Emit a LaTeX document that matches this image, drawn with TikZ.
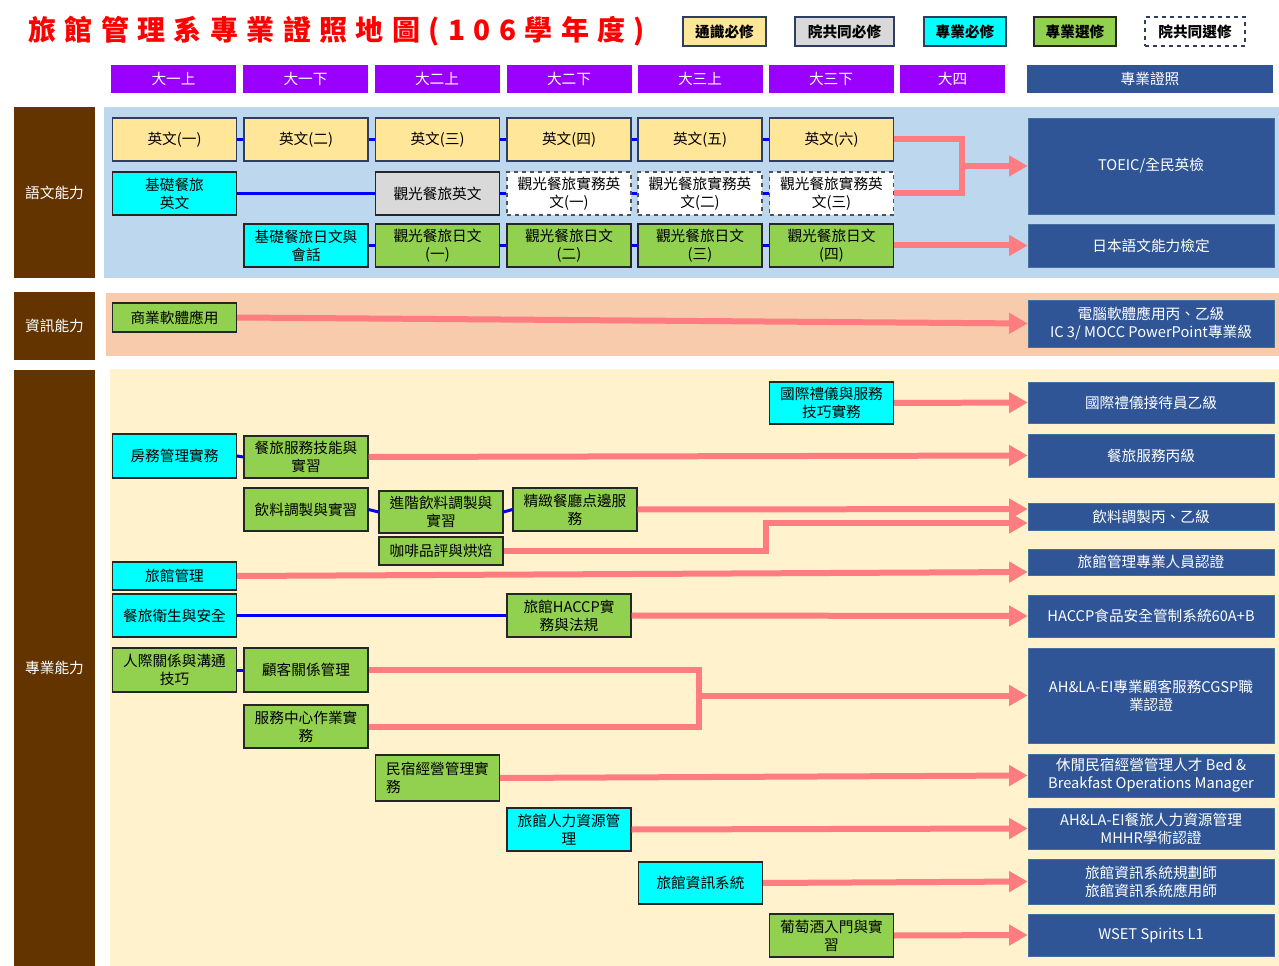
\documentclass[tikz,border=0pt]{standalone}
\usepackage{fontspec}
\setmainfont{Noto Sans CJK TC}
\usetikzlibrary{arrows.meta}
\definecolor{titlered}{RGB}{255,0,0}
\definecolor{termviolet}{RGB}{153,0,255}
\definecolor{certblue}{RGB}{47,85,151}
\definecolor{certedge}{RGB}{65,113,156}
\definecolor{abilitybrown}{RGB}{99,51,0}
\definecolor{langbg}{RGB}{189,215,238}
\definecolor{infobg}{RGB}{248,203,173}
\definecolor{probg}{RGB}{255,242,204}
\definecolor{genyellow}{RGB}{255,230,153}
\definecolor{colgray}{RGB}{217,217,217}
\definecolor{reqcyan}{RGB}{0,255,255}
\definecolor{electgreen}{RGB}{146,208,80}
\definecolor{pathpink}{RGB}{255,124,128}
\definecolor{linkblue}{RGB}{0,0,255}
\definecolor{boxedge}{RGB}{38,38,38}
\definecolor{legendedge}{RGB}{47,62,96}
\tikzset{
  unitbox/.style={font=\fontsize{11}{13.5}\selectfont,align=center,inner sep=1pt,
    minimum width=93pt,minimum height=32.25pt},
  wh/.style 2 args={minimum width=#1*0.75pt,minimum height=#2*0.75pt},
  general/.style={unitbox,draw=legendedge,fill=genyellow,line width=0.8pt},
  college/.style={unitbox,draw=boxedge,fill=colgray,line width=0.8pt},
  required/.style={unitbox,draw=boxedge,fill=reqcyan,line width=0.8pt},
  elective/.style={unitbox,draw=boxedge,fill=electgreen,line width=0.8pt},
  collegeopt/.style={unitbox,draw=boxedge!80,fill=white,dashed,line width=0.8pt},
  legendbox/.style={font=\fontsize{11}{13.5}\selectfont\bfseries},
  term/.style={unitbox,fill=termviolet,text=white,minimum height=21pt},
  cert/.style={unitbox,fill=certblue,draw=certedge,text=white,minimum width=184.5pt},
  ability/.style={unitbox,fill=abilitybrown,text=white},
  seqlink/.style={linkblue,line width=2.25pt},
  tocert/.style={pathpink,line width=4.5pt,line join=miter},
  certarrow/.style={tocert,->}
}
\begin{document}
\begin{tikzpicture}[x=0.75pt,y=-0.75pt,>={Triangle[length=14pt,width=15pt]}]
      \fill[white] (0,0) rectangle (1279,966);
      \useasboundingbox (0,0) rectangle (1279,966);
      \node[anchor=west,inner sep=0,text=titlered,
        font=\fontsize{21}{24}\selectfont\bfseries\addfontfeature{LetterSpace=30}] (title) at (28,31) {旅館管理系專業證照地圖(106學年度)};
      % legend
      \node[general,legendbox,wh={83}{29}] (leggen) at (724.5,31.5) {通識必修};
      \node[college,legendbox,draw=legendedge,wh={99}{29}] (legcol) at (844.5,31.5) {院共同必修};
      \node[required,legendbox,draw=legendedge,wh={82}{29}] (legreq) at (965,31.5) {專業必修};
      \node[elective,legendbox,wh={82}{29}] (legele) at (1075,31.5) {專業選修};
      \node[collegeopt,legendbox,draw=legendedge,wh={100}{29}] (legopt) at (1195,31.5) {院共同選修};
      % terms
      \foreach \lbl/\cx [count=\i] in {大一上/173.5,大一下/305.5,大二上/437,大二下/569,大三上/700,大三下/831}
      \node[term,wh={125}{28}] (term\i) at (\cx,79) {\lbl};
      \node[term,wh={105}{28}] (term7) at (952.5,79) {大四};
      \node[term,fill=certblue,wh={246}{28}] (certhead) at (1150,79) {專業證照};
      % backgrounds
      \fill[langbg] (104,107) rectangle (1279,278);
      \fill[infobg] (106,293) rectangle (1279,356);
      \fill[probg] (110,369) rectangle (1279,966);
      \node[ability,wh={81}{171}] (langab) at (54.5,192.5) {語文能力};
      \node[ability,wh={81}{68}] (infoab) at (54.5,326) {資訊能力};
      \node[ability,wh={81}{596}] (proab) at (54.5,668) {專業能力};
      % language
      \node[general] (eng1) at (174.5,139.5) {英文(一)};
      \node[general] (eng2) at (306,139.5) {英文(二)};
      \node[general] (eng3) at (437.5,139.5) {英文(三)};
      \node[general] (eng4) at (569,139.5) {英文(四)};
      \node[general] (eng5) at (700,139.5) {英文(五)};
      \node[general] (eng6) at (831.5,139.5) {英文(六)};
      \node[required] (basiceng) at (174.5,193.5) {基礎餐旅\\英文};
      \node[college] (toureng) at (437.5,193.5) {觀光餐旅英文};
      \node[collegeopt] (prac1) at (569,193.5) {觀光餐旅實務英\\文(一)};
      \node[collegeopt] (prac2) at (700,193.5) {觀光餐旅實務英\\文(二)};
      \node[collegeopt] (prac3) at (831.5,193.5) {觀光餐旅實務英\\文(三)};
      \node[required] (jpnconv) at (306,245.5) {基礎餐旅日文與\\會話};
      \node[elective] (jpn1) at (437.5,245.5) {觀光餐旅日文\\(一)};
      \node[elective] (jpn2) at (569,245.5) {觀光餐旅日文\\(二)};
      \node[elective] (jpn3) at (700,245.5) {觀光餐旅日文\\(三)};
      \node[elective] (jpn4) at (831.5,245.5) {觀光餐旅日文\\(四)};
      \node[cert,wh={246}{96}] (toeic) at (1151,166) {TOEIC/全民英檢};
      \node[cert,wh={246}{43}] (jlpt) at (1151,245.5) {日本語文能力檢定};
      % information
      \node[elective,wh={124}{29}] (bizsw) at (174.5,317.5) {商業軟體應用};
      \node[cert,wh={246}{47}] (mos) at (1151,323.5) {電腦軟體應用丙、乙級\\IC 3/ MOCC PowerPoint專業級};
      % professional
      \node[required,wh={124}{42}] (etiq) at (831.5,403) {國際禮儀與服務\\技巧實務};
      \node[required,wh={124}{44}] (housekeep) at (174.5,456) {房務管理實務};
      \node[elective,wh={124}{42}] (service) at (306,457) {餐旅服務技能與\\實習};
      \node[elective] (bev) at (306,509.5) {飲料調製與實習};
      \node[elective,wh={124}{42}] (advbev) at (441,512) {進階飲料調製與\\實習};
      \node[elective] (fine) at (575,509.5) {精緻餐廳点邊服\\務};
      \node[elective,wh={124}{28}] (coffee) at (441,551) {咖啡品評與烘焙};
      \node[required,wh={124}{28}] (hotelmgmt) at (174.5,576) {旅館管理};
      \node[required] (hygiene) at (174.5,615.5) {餐旅衛生與安全};
      \node[elective] (haccp) at (569,615.5) {旅館HACCP實\\務與法規};
      \node[elective,wh={124}{44}] (interpers) at (174.5,670) {人際關係與溝通\\技巧};
      \node[elective,wh={124}{44}] (crm) at (306,670) {顧客關係管理};
      \node[elective] (svccenter) at (306,726.5) {服務中心作業實\\務};
      \node[elective,align=left,wh={124}{46}] (bnb) at (437.5,778) {民宿經營管理實\\務};
      \node[required] (hr) at (569,829.5) {旅館人力資源管\\理};
      \node[required,wh={124}{42}] (his) at (700.5,883) {旅館資訊系統};
      \node[elective] (wine) at (831.5,935.5) {葡萄酒入門與實\\習};
      \node[cert,wh={246}{41}] (etiqcert) at (1151,402.5) {國際禮儀接待員乙級};
      \node[cert,wh={246}{43}] (servicecert) at (1151,455.5) {餐旅服務丙級};
      \node[cert,wh={246}{27}] (bevcert) at (1151,516.5) {飲料調製丙、乙級};
      \node[cert,wh={246}{26}] (mgmtcert) at (1151,562) {旅館管理專業人員認證};
      \node[cert,wh={246}{42}] (haccpcert) at (1151,616) {HACCP食品安全管制系統60A+B};
      \node[cert,wh={246}{95}] (cgsp) at (1151,695.5) {AH\&LA-EI專業顧客服務CGSP職\\業認證};
      \node[cert,wh={246}{43}] (bnbcert) at (1151,775.5) {休閒民宿經營管理人才 Bed \&\\Breakfast Operations Manager};
      \node[cert,wh={246}{41}] (hrcert) at (1151,828.5) {AH\&LA-EI餐旅人力資源管理\\MHHR學術認證};
      \node[cert,wh={246}{45}] (hiscert) at (1151,881.5) {旅館資訊系統規劃師\\旅館資訊系統應用師};
      \node[cert,wh={246}{42}] (winecert) at (1151,935) {WSET Spirits L1};
      % course sequences
      \foreach \a/\b in {eng1/eng2,eng2/eng3,eng3/eng4,eng4/eng5,eng5/eng6,basiceng/toureng,toureng/prac1,prac1/prac2,prac2/prac3,jpnconv/jpn1,jpn1/jpn2,jpn2/jpn3,jpn3/jpn4,housekeep/service,bev/advbev,advbev/fine,hygiene/haccp,interpers/crm}
      \draw[seqlink] (\a.east) -- (\b.west);
      % to certificates
      \coordinate (engjoin) at (962,166);
      \draw[tocert] (eng6.east) -| (engjoin) |- (prac3.east);
      \draw[certarrow] (engjoin) -- (toeic.west);
      \draw[certarrow] (jpn4.east) -- (jlpt.west);
      \draw[certarrow] (bizsw.east) -- (mos.west);
      \draw[certarrow] (etiq.east) -- (etiqcert.west);
      \draw[certarrow] (service.east) -- (servicecert.west);
      \draw[certarrow] (fine.east) -- ([yshift=5.6pt]bevcert.west);
      \coordinate (coffeebend) at (766,523);
      \draw[certarrow] (coffee.east) -| (coffeebend) -- (coffeebend -| bevcert.west);
      \draw[certarrow] (hotelmgmt.east) -- ([yshift=-7.5pt]mgmtcert.west);
      \draw[certarrow] (haccp.east) -- (haccpcert.west);
      \coordinate (cgspjoin) at (699,695.5);
      \draw[tocert] (crm.east) -| (cgspjoin) |- (svccenter.east);
      \draw[certarrow] (cgspjoin) -- (cgsp.west);
      \draw[certarrow] (bnb.east) -- (bnbcert.west);
      \draw[certarrow] (hr.east) -- (hrcert.west);
      \draw[certarrow] (his.east) -- (hiscert.west);
      \draw[certarrow] (wine.east) -- (winecert.west);
\end{tikzpicture}
\end{document}
